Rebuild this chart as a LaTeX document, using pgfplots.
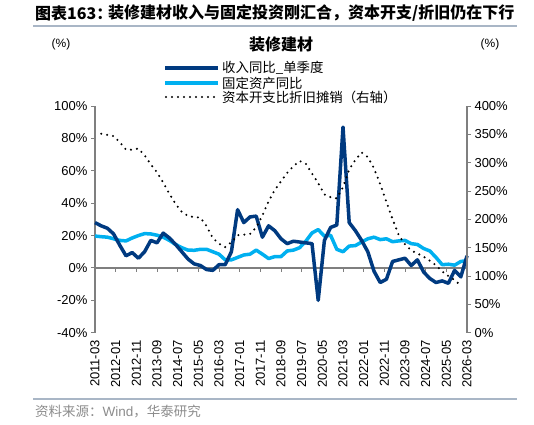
\documentclass[border=0pt]{standalone}
\usepackage{pgfplots}
\usepackage{pgfplotstable}
\pgfplotsset{compat=1.18}
\usepackage{fontspec}
\setmainfont{Liberation Sans}
\newfontfamily\cjk{Noto Sans CJK SC}
\definecolor{navy}{HTML}{003A80}
\definecolor{sky}{HTML}{00B0F0}
\definecolor{axgray}{HTML}{7F7F7F}
\definecolor{rulec}{HTML}{A9B6C6}
\definecolor{srcgray}{HTML}{8C8C8C}

\pgfplotstableread{
m v
0 28
3 26
6 24.5
9 21
12 14
15 7.5
18 9.5
21 6
24 10
27 17
30 15.5
33 21.5
36 18.5
39 14.5
42 10
45 5.5
48 2.5
51 1.5
54 -1
57 -1.5
60 2
63 2
66 10
69 36
72 28
75 31.5
78 32
81 19
84 26
87 23
90 18
93 15
96 16.5
99 16
102 15.5
105 15
108 -20
111 17
114 25
117 26.5
120 87
123 28
126 23
129 17
132 10
135 -2
138 -9
141 -7
144 4
147 5
150 6
153 1.5
156 5
159 -2.5
162 -6.5
165 -9
168 -8
171 -9.5
174 -1.5
177 -5.5
180 7.5
}\rev

\pgfplotstableread{
m v
0 19.7
3 19.3
6 19
9 18
12 17
15 16.7
18 18.5
21 20
24 21.2
27 21
30 20.2
33 19
36 17
39 14.5
42 12.5
45 11
48 10.9
51 11.5
54 11.5
57 10
60 8.5
63 5
66 5
69 6.5
72 8
75 8.5
78 11
81 8.5
84 5.8
87 7
90 7
93 10.5
96 11
99 12.5
102 16.5
105 21.6
108 23.7
111 19.6
114 20.2
117 11.5
120 10
123 13.5
126 13.8
129 16
132 18
135 19
138 17.5
141 18
144 16.2
147 16.7
150 17
153 15
156 14.5
159 12
162 10.5
165 6.5
168 2
171 2.3
174 1.7
177 4
180 4.5
}\fai

\pgfplotstableread{
m v
3 351
6 349
9 347
12 336
15 323
18 323
21 325
24 313
27 297
30 283
33 265
36 245
39 227
42 213
45 206
48 204
51 203
54 188
57 167
60 157
63 151
66 160
69 172
72 173
75 174
78 186
81 207
84 232
87 252
90 267
93 282
96 294
99 303
102 298
105 281
108 264
111 244
114 239
117 237
120 257
123 288
126 305
129 318
132 310
135 290
138 262
141 231
144 200
147 172
150 156
153 145
156 140
159 134
162 127
165 119
168 108
171 100
174 93
177 83
}\capex

\begin{document}
\begin{tikzpicture}
\path[use as bounding box] (0,0) rectangle (534pt,-424pt);
% title
\node[anchor=west, inner sep=0] at (35pt,-13pt) {\fontsize{16}{16}\selectfont\cjk\bfseries 图表163：};
\node[anchor=west, inner sep=0] at (108pt,-13pt) {\fontsize{16}{16}\selectfont\cjk\bfseries 装修建材收入与固定投资刚汇合，资本开支/折旧仍在下行};
\draw[rulec, line width=1.2pt] (33pt,-26pt) -- (517pt,-26pt);
% subtitle and units
\node[inner sep=0] at (61pt,-44pt) {\fontsize{12}{12}\selectfont (\%)};
\node[inner sep=0] at (490pt,-44pt) {\fontsize{12}{12}\selectfont (\%)};
\node[inner sep=0] at (281pt,-44pt) {\fontsize{16}{16}\selectfont\cjk\bfseries 装修建材};
% legend
\draw[navy, line width=3.5pt] (165pt,-68pt) -- (218pt,-68pt);
\node[anchor=west, inner sep=0] at (222pt,-68pt) {\fontsize{13.4}{13.4}\selectfont\cjk 收入同比\_单季度};
\draw[sky, line width=3.5pt] (165pt,-83pt) -- (218pt,-83pt);
\node[anchor=west, inner sep=0] at (222pt,-83pt) {\fontsize{13.4}{13.4}\selectfont\cjk 固定资产同比};
\draw[black, line width=2.3pt, line cap=round, dash pattern=on 0pt off 6pt] (166pt,-97pt) -- (218pt,-97pt);
\node[anchor=west, inner sep=0] at (222pt,-97pt) {\fontsize{13.4}{13.4}\selectfont\cjk 资本开支比折旧摊销（右轴）};
% source
\draw[rulec, line width=1.2pt] (33pt,-399pt) -- (517pt,-399pt);
\node[anchor=west, inner sep=0, text=srcgray] at (35pt,-411pt) {\fontsize{13.5}{13.5}\selectfont{\cjk 资料来源：}Wind{\cjk ，华泰研究}};

\begin{axis}[
  scale only axis, width=372pt, height=226.7pt,
  at={(95pt,-332.7pt)}, anchor=south west,
  xmin=0, xmax=180, ymin=-40, ymax=100,
  axis y line*=left, axis x line*=bottom,
  x axis line style={draw=none},
  y axis line style={axgray, line width=1.2pt},
  xtick={0,10,...,180},
  xticklabels={2011-03,2012-01,2012-11,2013-09,2014-07,2015-05,2016-03,2017-01,2017-11,2018-09,2019-07,2020-05,2021-03,2022-01,2022-11,2023-09,2024-07,2025-05,2026-03},
  x tick style={draw=none},
  y tick style={axgray, line width=1pt},
  major tick length=4pt, tick align=outside,
  xticklabel style={rotate=90, anchor=east},
  ytick={-40,-20,...,100},
  yticklabel={\pgfmathprintnumber{\tick}\%},
  /pgf/number format/assume math mode=true,
  tick label style={font=\fontsize{13}{13}\selectfont},
  clip=false,
]
\draw[axgray, line width=1.2pt] (axis cs:0,0) -- (axis cs:180,0);
\pgfplotsinvokeforeach{0,10,...,180}{\draw[axgray, line width=1pt] (axis cs:#1,0) -- ++(0pt,-4pt);}
\addplot[sky, line width=3.5pt, line join=round] table[x=m,y=v] {\fai};
\addplot[navy, line width=3.5pt, line join=round] table[x=m,y=v] {\rev};
\end{axis}

\begin{axis}[
  scale only axis, width=372pt, height=226.7pt,
  at={(95pt,-332.7pt)}, anchor=south west,
  xmin=0, xmax=180, ymin=0, ymax=400,
  axis x line=none, axis y line*=right,
  y axis line style={axgray, line width=1.2pt},
  y tick style={axgray, line width=1pt},
  major tick length=4pt, tick align=outside,
  ytick={0,50,...,400},
  yticklabel={\pgfmathprintnumber{\tick}\%},
  /pgf/number format/assume math mode=true,
  tick label style={font=\fontsize{13}{13}\selectfont},
]
\addplot[black, line width=2.3pt, line cap=round, dash pattern=on 0pt off 6pt] table[x=m,y=v] {\capex};
\end{axis}
\end{tikzpicture}
\end{document}
